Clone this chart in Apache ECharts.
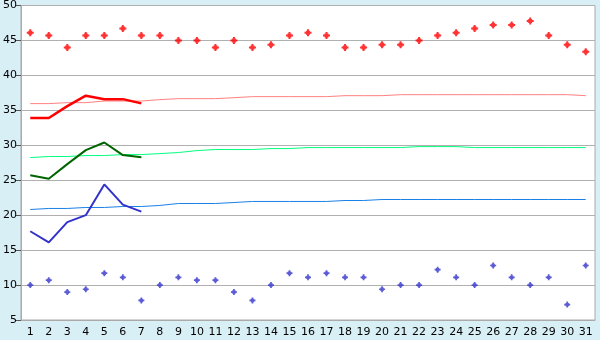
<!DOCTYPE html>
<html>
<head>
<meta charset="utf-8">
<script src="https://cdn.jsdelivr.net/npm/echarts@6/dist/echarts.min.js"></script>
<style>
    html, body { margin: 0; padding: 0; background: #d9eff6; }
    #chart { width: 600px; height: 340px; }
</style>
</head>
<body>
<div id="chart"></div>
<script>
// 日期
var days = ['1', '2', '3', '4', '5', '6', '7', '8', '9', '10', '11', '12', '13', '14', '15', '16',
    '17', '18', '19', '20', '21', '22', '23', '24', '25', '26', '27', '28', '29', '30', '31'];

// 散点: 上面红色, 下面蓝色
var highPoints = [46.1, 45.7, 44.0, 45.7, 45.7, 46.7, 45.7, 45.7, 45.0, 45.0, 44.0, 45.0, 44.0, 44.4, 45.7, 46.1,
    45.7, 44.0, 44.0, 44.4, 44.4, 45.0, 45.7, 46.1, 46.7, 47.2, 47.2, 47.8, 45.7, 44.4, 43.4];
var lowPoints = [10.0, 10.7, 9.0, 9.4, 11.7, 11.1, 7.8, 10.0, 11.1, 10.7, 10.7, 9.0, 7.8, 10.0, 11.7, 11.1,
    11.7, 11.1, 11.1, 9.4, 10.0, 10.0, 12.2, 11.1, 10.0, 12.8, 11.1, 10.0, 11.1, 7.2, 12.8];

// 粗线 (只有前7天)
var redLine = [33.9, 33.9, 35.6, 37.1, 36.6, 36.6, 36.0];
var greenLine = [25.7, 25.2, 27.3, 29.3, 30.4, 28.6, 28.3];
var blueLine = [17.7, 16.1, 19.0, 20.0, 24.4, 21.5, 20.5];

// 细线 (全月)
var pinkThin = [35.96, 35.96, 36.1, 36.1, 36.33, 36.33, 36.33, 36.53, 36.67, 36.67, 36.67, 36.81, 36.96, 36.96, 36.96, 36.96,
    36.96, 37.1, 37.1, 37.1, 37.24, 37.24, 37.24, 37.24, 37.24, 37.24, 37.24, 37.24, 37.24, 37.24, 37.1];
var greenThin = [28.24, 28.39, 28.39, 28.53, 28.53, 28.67, 28.67, 28.81, 28.96, 29.24, 29.39, 29.39, 29.39, 29.53, 29.53, 29.67,
    29.67, 29.67, 29.67, 29.67, 29.67, 29.81, 29.81, 29.81, 29.67, 29.67, 29.67, 29.67, 29.67, 29.67, 29.67];
var blueThin = [20.81, 20.96, 20.96, 21.1, 21.1, 21.24, 21.24, 21.39, 21.67, 21.67, 21.67, 21.81, 21.96, 21.96, 21.96, 21.96,
    21.96, 22.1, 22.1, 22.24, 22.24, 22.24, 22.24, 22.24, 22.24, 22.24, 22.24, 22.24, 22.24, 22.24, 22.24];

var chart = echarts.init(document.getElementById('chart'));

// 十字形标记 (中心加粗)
var plusMark = 'path://M2.5,0H4.5V1.5H5.5V2.5H7V4.5H5.5V5.5H4.5V7H2.5V5.5H1.5V4.5H0V2.5H1.5V1.5H2.5Z';

function line(data, color, width) {
    return {
        type: 'line', data: data, symbol: 'none', silent: true,
        lineStyle: { color: color, width: width }
    };
}

var option = {
    backgroundColor: '#d9eff6',
    animation: false,
    textStyle: { fontFamily: 'DejaVu Sans' },
    grid: {
        left: 20, right: 5, top: 5, bottom: 20,
        show: true, backgroundColor: '#ffffff', borderColor: '#aaaaaa', borderWidth: 1
    },
    xAxis: {
        type: 'category',
        data: days,
        boundaryGap: true,
        axisLine: { lineStyle: { color: '#aaaaaa' } },
        axisTick: { alignWithLabel: true, length: 5, lineStyle: { color: '#555555' } },
        axisLabel: { color: '#000000', fontSize: 11, margin: 7, interval: 0 },
        splitLine: { show: false }
    },
    yAxis: {
        type: 'value',
        min: 5, max: 50, interval: 5,
        axisLine: { show: true, lineStyle: { color: '#aaaaaa' } },
        axisTick: { show: true, length: 5, lineStyle: { color: '#555555' } },
        axisLabel: { color: '#000000', fontSize: 11, margin: 4 },
        splitLine: { lineStyle: { color: '#b0b0b0', width: 1 } }
    },
    series: [
        // 细线
        line(pinkThin, '#ff8080', 1),
        line(greenThin, '#00ff80', 1),
        line(blueThin, '#1a80e6', 1),
        // 粗线
        line(redLine, '#ff0000', 2.5),
        line(greenLine, '#006400', 2),
        line(blueLine, '#3333cc', 2),
        {
            type: 'scatter', data: highPoints, symbol: plusMark, symbolSize: 7,
            itemStyle: { color: '#ff0000' }
        },
        {
            type: 'scatter', data: lowPoints, symbol: plusMark, symbolSize: 6,
            itemStyle: { color: '#3333cc' }
        }
    ]
};

chart.setOption(option);
</script>
</body>
</html>
